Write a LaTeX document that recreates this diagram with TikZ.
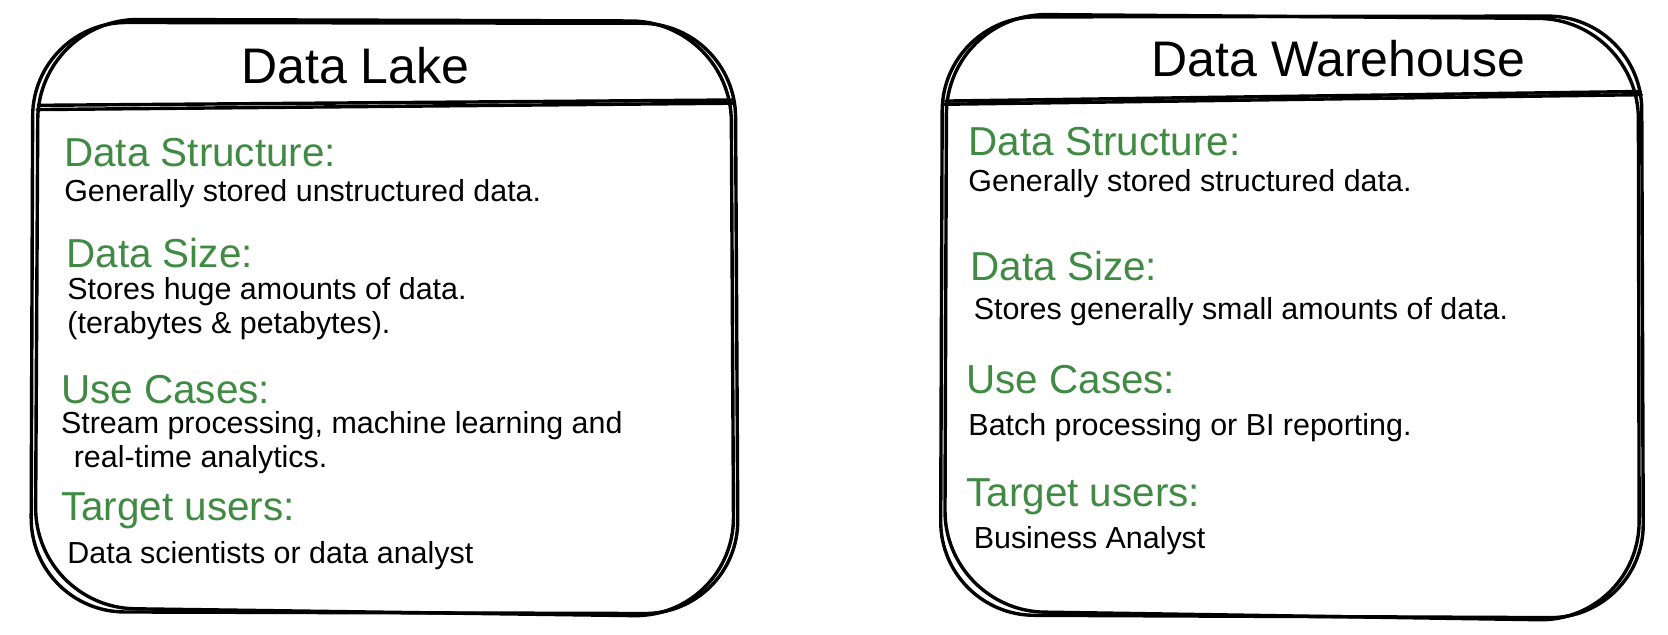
\documentclass[tikz,border=0pt]{standalone}
\usepackage{fontspec}
\setmainfont{Liberation Sans}
\definecolor{headgreen}{RGB}{64,138,68}
\tikzset{
  sk/.style={line width=1.6pt, draw=black, line join=round, line cap=round},
  titletext/.style={inner sep=0pt, font=\fontsize{23.5}{28}\selectfont},
  headtext/.style={anchor=west, inner sep=0pt, text=headgreen, font=\fontsize{19}{22}\selectfont},
  bodytext/.style={anchor=west, inner sep=0pt, align=left, font=\fontsize{14.3}{15.8}\selectfont},
}
\begin{document}
\begin{tikzpicture}[x=0.5pt,y=-0.5pt]
\useasboundingbox (0,0) rectangle (1568,596);
% ---------- Left box: Data Lake ----------
\draw[sk, rounded corners=44pt] (31,21) -- (691,22) -- (694,577) -- (29,575) -- cycle;
\draw[sk, rounded corners=47pt] (36,18) -- (687,20) -- (690,580) -- (33,571) -- cycle;
\draw[sk] (35,103) -- (690,97);
\draw[sk] (36,99) -- (689,94);
\node[titletext] (lt) at (334,62) {Data Lake};
\node[headtext] (l1h) at (60,143) {Data Structure:};
\node[bodytext] (l1b) at (60,182) {Generally stored unstructured data.};
\node[headtext] (l2h) at (62,238) {Data Size:};
\node[bodytext] (l2b) at (63,290) {Stores huge amounts of data.\\(terabytes \& petabytes).};
\node[headtext] (l3h) at (57,366) {Use Cases:};
\node[bodytext] (l3b) at (57,416) {Stream processing, machine learning and\\\hspace{6pt}real-time analytics.};
\node[headtext] (l4h) at (57,480) {Target users:};
\node[bodytext] (l4b) at (63,522) {Data scientists or data analyst};
% ---------- Right box: Data Warehouse ----------
\draw[sk, rounded corners=44pt] (886,16) -- (1543,15) -- (1545,581) -- (884,578) -- cycle;
\draw[sk, rounded corners=47pt] (890,13) -- (1540,18) -- (1541,584) -- (888,574) -- cycle;
\draw[sk] (888,98) -- (1543,89);
\draw[sk] (889,95) -- (1542,86);
\node[titletext] (rt) at (1258,55) {Data Warehouse};
\node[headtext] (r1h) at (910,133) {Data Structure:};
\node[bodytext] (r1b) at (910,173) {Generally stored structured data.};
\node[headtext] (r2h) at (912,250) {Data Size:};
\node[bodytext] (r2b) at (915,293) {Stores generally small amounts of data.};
\node[headtext] (r3h) at (908,357) {Use Cases:};
\node[bodytext] (r3b) at (910,402) {Batch processing or BI reporting.};
\node[headtext] (r4h) at (908,467) {Target users:};
\node[bodytext] (r4b) at (915,508) {Business Analyst};
\end{tikzpicture}
\end{document}
